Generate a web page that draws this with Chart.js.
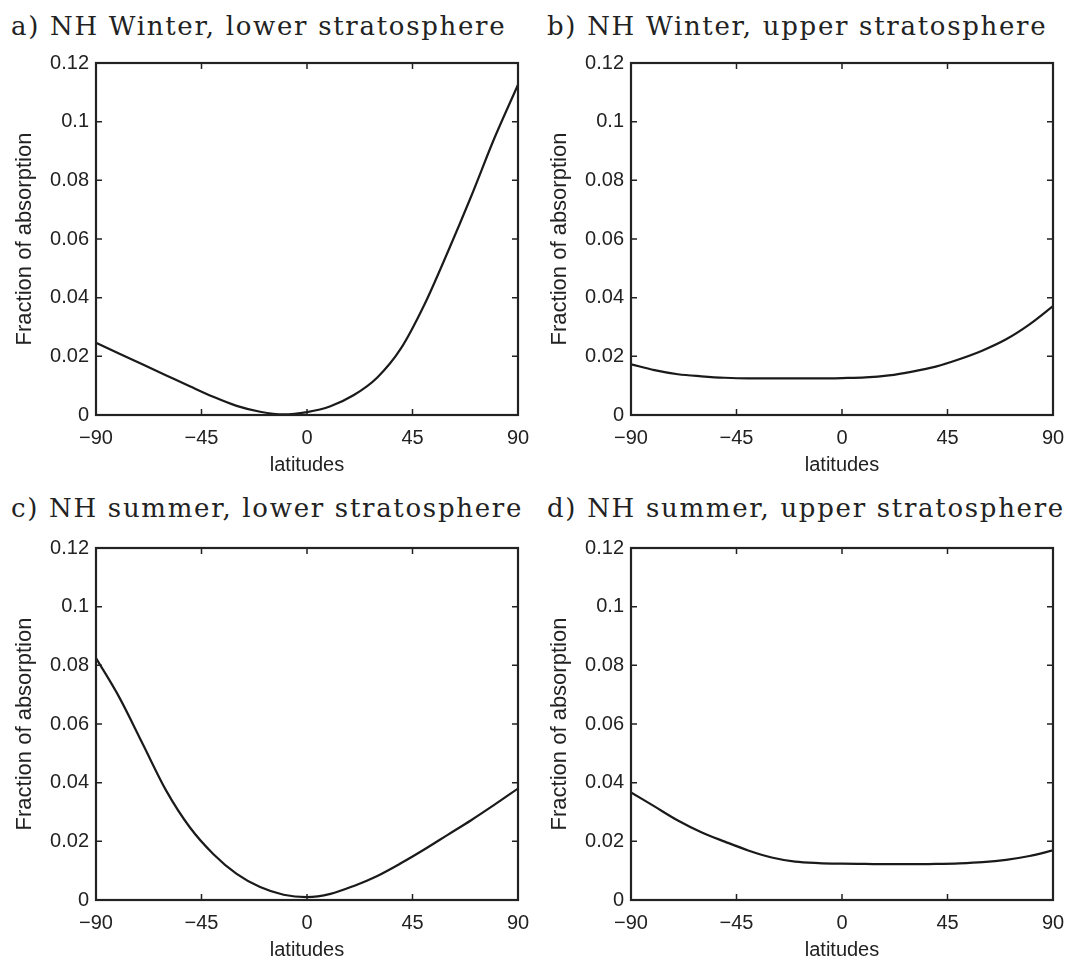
<html>

<head>
    <meta charset="utf-8">
    <title>Fraction of absorption</title>
    <script src="https://cdn.jsdelivr.net/npm/chart.js"></script>
    <style>
        body { margin: 0; background: #fff; width: 1067px; height: 963px; position: relative; overflow: hidden; }
        .panel { position: absolute; }
        .ttl { position: absolute; font-family: "DejaVu Serif", serif; font-size: 26px; line-height: 26px; letter-spacing: 1.7px; color: #222; white-space: nowrap; }
    </style>
</head>

<body>
    <div class="ttl" style="left: 11px; top: 13px;">a) NH Winter, lower stratosphere</div>
    <div class="ttl" style="left: 547px; top: 13px;">b) NH Winter, upper stratosphere</div>
    <div class="ttl" style="left: 11px; top: 495px;">c) NH summer, lower stratosphere</div>
    <div class="ttl" style="left: 547px; top: 495px;">d) NH summer, upper stratosphere</div>

    <canvas class="panel" id="chartA" width="533" height="477" style="left: 0px; top: 0px;"></canvas>
    <canvas class="panel" id="chartB" width="532" height="477" style="left: 535px; top: 0px;"></canvas>
    <canvas class="panel" id="chartC" width="533" height="477" style="left: 0px; top: 485px;"></canvas>
    <canvas class="panel" id="chartD" width="532" height="477" style="left: 535px; top: 485px;"></canvas>

    <script>
        // latitudes (deg)
        const lats = [-90, -80, -70, -60, -50, -40, -30, -20, -10, 0, 10, 20, 30, 40, 50, 60, 70, 80, 90];
        const xTicks = [-90, -45, 0, 45, 90];
        const yTicks = [0, 0.02, 0.04, 0.06, 0.08, 0.1, 0.12];

        // fraction of absorption
        const winterLower = [0.0246, 0.0209, 0.0172, 0.0135, 0.0098, 0.0062, 0.0031, 0.0011, 0.0002, 0.0010,
            0.0030, 0.0068, 0.0128, 0.0226, 0.0375, 0.0555, 0.0745, 0.0945, 0.1126];
        const winterUpper = [0.0173, 0.0153, 0.0139, 0.0132, 0.0127, 0.0125, 0.0125, 0.0125, 0.0125, 0.0126,
            0.0128, 0.0135, 0.0148, 0.0165, 0.0190, 0.0220, 0.0258, 0.0309, 0.0371];
        const summerLower = [0.0825, 0.0690, 0.0531, 0.0372, 0.0248, 0.0157, 0.0089, 0.0044, 0.0018, 0.0010,
            0.0021, 0.0048, 0.0082, 0.0125, 0.0172, 0.0222, 0.0272, 0.0325, 0.0380];
        const summerUpper = [0.0367, 0.0319, 0.0271, 0.0231, 0.0199, 0.0169, 0.0145, 0.0131, 0.0126, 0.0124,
            0.0123, 0.0122, 0.0122, 0.0123, 0.0125, 0.0129, 0.0137, 0.0150, 0.0169];

        const ink = "#222";
        const sans = "'Liberation Sans', Arial, sans-serif";

        // matlab style box with inward ticks on all four sides
        const boxPlugin = {
            id: "box",
            afterDraw(chart) {
                const ctx = chart.ctx;
                const a = chart.chartArea;
                const sx = chart.scales.x;
                const sy = chart.scales.y;
                const tl = 6;
                ctx.save();
                ctx.strokeStyle = ink;
                ctx.lineWidth = 1.5;
                ctx.beginPath();
                xTicks.forEach(v => {
                    const px = sx.getPixelForValue(v);
                    ctx.moveTo(px, a.bottom); ctx.lineTo(px, a.bottom - tl);
                    ctx.moveTo(px, a.top); ctx.lineTo(px, a.top + tl);
                });
                yTicks.forEach(v => {
                    const py = sy.getPixelForValue(v);
                    ctx.moveTo(a.left, py); ctx.lineTo(a.left + tl, py);
                    ctx.moveTo(a.right, py); ctx.lineTo(a.right - tl, py);
                });
                ctx.stroke();
                ctx.lineWidth = 2.2;
                ctx.strokeRect(a.left, a.top, a.right - a.left, a.bottom - a.top);
                ctx.restore();
            }
        };

        function makeChart(id, values, padRight) {
            const data = {
                datasets: [{
                    data: lats.map((lat, i) => ({ x: lat, y: values[i] })),
                    borderColor: "#1a1a1a",
                    borderWidth: 2.2,
                    pointRadius: 0,
                    cubicInterpolationMode: "monotone",
                    fill: false,
                }],
            };
            const config = {
                type: "line",
                data: data,
                plugins: [boxPlugin],
                options: {
                    responsive: false,
                    animation: false,
                    layout: { padding: { top: 63, right: padRight, bottom: 0, left: 0 } },
                    plugins: { legend: { display: false }, tooltip: { enabled: false } },
                    scales: {
                        x: {
                            type: "linear",
                            min: -90,
                            max: 90,
                            afterBuildTicks: s => { s.ticks = xTicks.map(v => ({ value: v })); },
                            afterFit: s => { s.height = 62; s.paddingLeft = 0; s.paddingRight = 0; },
                            grid: { display: false, drawTicks: false },
                            border: { display: false },
                            ticks: {
                                padding: 11,
                                color: ink,
                                font: { family: sans, size: 20 },
                                maxRotation: 0,
                                callback: v => String(v).replace("-", "\u2212"),
                            },
                            title: {
                                display: true,
                                text: "latitudes",
                                color: ink,
                                font: { family: sans, size: 20 },
                                padding: { top: 0, bottom: 0 },
                            },
                        },
                        y: {
                            min: 0,
                            max: 0.12,
                            afterBuildTicks: s => { s.ticks = yTicks.map(v => ({ value: v })); },
                            afterFit: s => { s.width = 96; s.paddingTop = 0; s.paddingBottom = 0; },
                            grid: { display: false, drawTicks: false },
                            border: { display: false },
                            ticks: {
                                padding: 7,
                                color: ink,
                                font: { family: sans, size: 20 },
                                callback: v => String(+v.toFixed(2)),
                            },
                            title: {
                                display: true,
                                text: "Fraction of absorption",
                                color: ink,
                                font: { family: sans, size: 22 },
                                padding: { top: 12, bottom: 0 },
                            },
                        },
                    },
                },
            };
            const ctx = document.getElementById(id).getContext("2d");
            return new Chart(ctx, config);
        }

        makeChart("chartA", winterLower, 15);
        makeChart("chartB", winterUpper, 14);
        makeChart("chartC", summerLower, 15);
        makeChart("chartD", summerUpper, 14);
    </script>
</body>

</html>
